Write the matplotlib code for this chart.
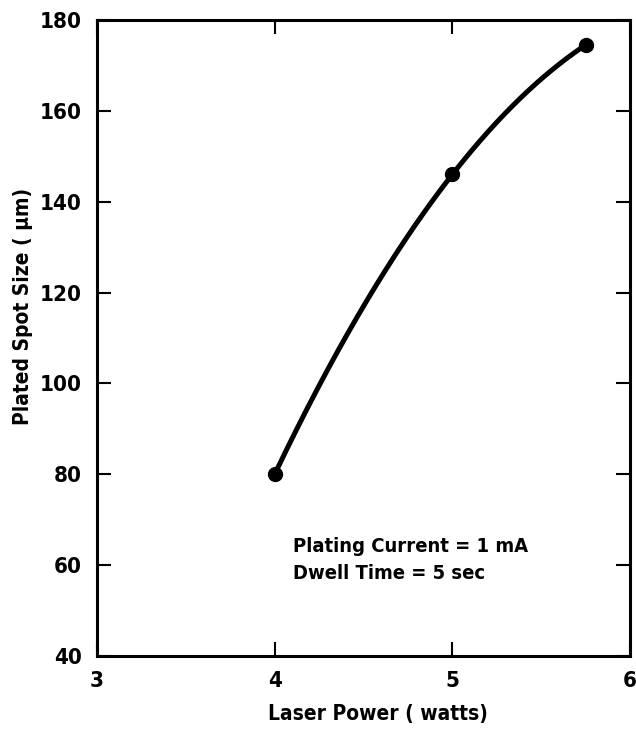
import matplotlib
matplotlib.use('Agg')
import matplotlib.pyplot as plt
import numpy as np

plt.rcParams['font.family'] = ['DejaVu Sans']
plt.rcParams['font.weight'] = 'bold'
plt.rcParams['font.stretch'] = 'condensed'

# data
power = [4.0, 5.0, 5.75]
spot = [80, 146, 174.5]
xticks = [3, 4, 5, 6]
yticks = [40, 60, 80, 100, 120, 140, 160, 180]

fig = plt.figure(figsize=(6.36, 7.29), dpi=100)
ax = fig.add_axes([0.1525, 0.1001, 0.838, 0.8724])

# smooth curve through the measured points
c = np.polyfit(power, spot, 2)
xs = np.linspace(power[0], power[-1], 200)
ax.plot(xs, np.polyval(c, xs), color='black', lw=3.6, solid_capstyle='round')
ax.plot(power, spot, 'o', color='black', ms=10)

ax.set_xlim(3, 6)
ax.set_ylim(40, 180)
ax.set_xticks(xticks)
ax.set_yticks(yticks)
ax.tick_params(direction='in', length=10, width=1.5, labelsize=16,
               top=True, right=True)
ax.tick_params(axis='x', pad=11)
ax.tick_params(axis='y', pad=11)
for s in ax.spines.values():
    s.set_linewidth(2.2)

ax.set_xlabel('Laser Power ( watts)', fontsize=15, fontweight='bold')
ax.xaxis.set_label_coords(0.527, -0.075)
ax.set_ylabel('Plated Spot Size ( μm)', fontsize=15, fontweight='bold')
ax.yaxis.set_label_coords(-0.12, 0.549)

ax.text(0.367, 0.173, 'Plating Current = 1 mA', transform=ax.transAxes,
        fontsize=14.5, fontweight='bold', ha='left', va='center')
ax.text(0.367, 0.129, 'Dwell Time = 5 sec', transform=ax.transAxes,
        fontsize=14.5, fontweight='bold', ha='left', va='center')

fig.savefig('out.png', dpi=100, facecolor='white')
